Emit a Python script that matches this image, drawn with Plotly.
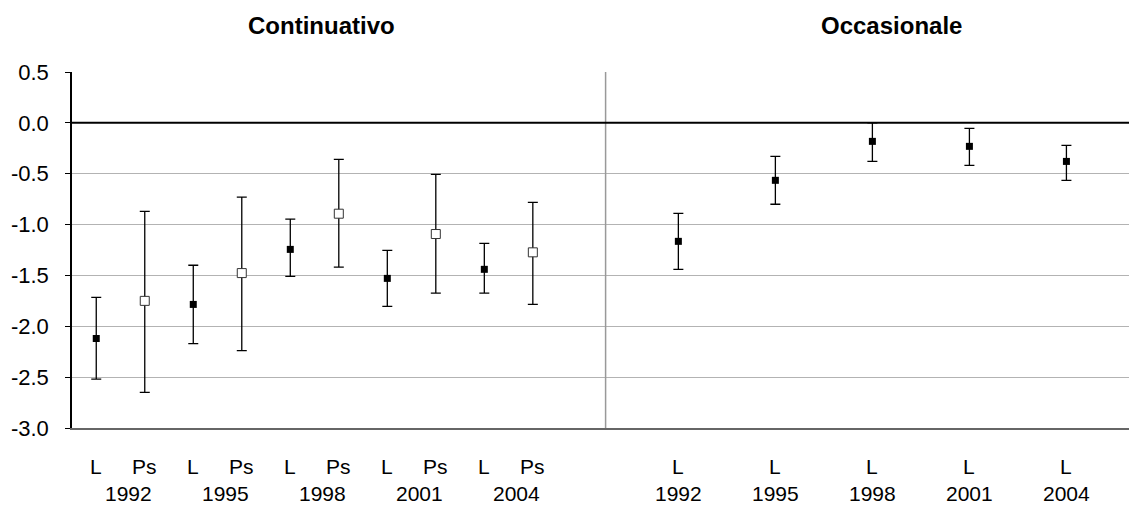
import plotly.graph_objects as go

# ---- data ----
cont_series = ["L", "Ps", "L", "Ps", "L", "Ps", "L", "Ps", "L", "Ps"]
cont_years = ["1992", "1995", "1998", "2001", "2004"]
cont_value = [-2.12, -1.75, -1.785, -1.477, -1.244, -0.893, -1.529, -1.093, -1.44, -1.273]
cont_upper = [-1.716, -0.87, -1.40, -0.73, -0.946, -0.359, -1.254, -0.506, -1.185, -0.782]
cont_lower = [-2.52, -2.65, -2.17, -2.24, -1.51, -1.418, -1.804, -1.673, -1.673, -1.785]

occ_series = ["L", "L", "L", "L", "L"]
occ_years = ["1992", "1995", "1998", "2001", "2004"]
occ_value = [-1.165, -0.565, -0.182, -0.231, -0.379]
occ_upper = [-0.89, -0.33, 0.0, -0.054, -0.221]
occ_lower = [-1.44, -0.80, -0.379, -0.418, -0.565]

y_ticks = [0.5, 0.0, -0.5, -1.0, -1.5, -2.0, -2.5, -3.0]
y_tick_labels = [f"{v:.1f}" for v in y_ticks]
panel_titles = ["Continuativo", "Occasionale"]

# ---- positions on a shared category slot axis ----
cont_x = list(range(len(cont_value)))                  # slots 0..9
sep_x = len(cont_value) + 0.5                          # panel separator
occ_x = [len(cont_value) + 2 + 2 * i for i in range(len(occ_value))]

FONT = "Arial, Liberation Sans, sans-serif"

fig = go.Figure()

def add_points(xs, vals, ups, lows, idx, filled):
    x = [xs[i] for i in idx]
    y = [vals[i] for i in idx]
    up = [ups[i] - vals[i] for i in idx]
    dn = [vals[i] - lows[i] for i in idx]
    if filled:
        marker = dict(symbol="square", size=7, color="black", line=dict(width=0))
    else:
        marker = dict(symbol="square", size=9, color="white", line=dict(width=1, color="#333333"))
    fig.add_trace(go.Scatter(
        x=x, y=y, mode="markers", marker=marker,
        error_y=dict(type="data", symmetric=False, array=up, arrayminus=dn,
                     color="black", thickness=1.3, width=5),
        showlegend=False, hoverinfo="skip"))

L_idx = [i for i, s in enumerate(cont_series) if s == "L"]
P_idx = [i for i, s in enumerate(cont_series) if s == "Ps"]
add_points(cont_x, cont_value, cont_upper, cont_lower, L_idx, True)
add_points(cont_x, cont_value, cont_upper, cont_lower, P_idx, False)
add_points(occ_x, occ_value, occ_upper, occ_lower, list(range(len(occ_value))), True)

# separator and zero line
fig.add_shape(type="line", xref="x", yref="y", x0=sep_x, x1=sep_x, y0=-3.0, y1=0.5,
              line=dict(color="#999999", width=1.5), layer="above")
fig.add_shape(type="line", xref="paper", yref="y", x0=0, x1=1, y0=0, y1=0,
              line=dict(color="black", width=2), layer="above")

LABEL_FONT = dict(family=FONT, size=21, color="black")
annotations = []
# category labels row 1
for x, s in zip(cont_x + occ_x, cont_series + occ_series):
    annotations.append(dict(x=x, y=0, xref="x", yref="paper", text=s, showarrow=False,
                            yanchor="middle", yshift=-38, font=LABEL_FONT))
# year labels row 2
for k, yr in enumerate(cont_years):
    xm = (cont_x[2 * k] + cont_x[2 * k + 1]) / 2 + 0.17
    annotations.append(dict(x=xm, y=0, xref="x", yref="paper", text=yr, showarrow=False,
                            yanchor="middle", yshift=-65, font=LABEL_FONT))
for x, yr in zip(occ_x, occ_years):
    annotations.append(dict(x=x, y=0, xref="x", yref="paper", text=yr, showarrow=False,
                            yanchor="middle", yshift=-65, font=LABEL_FONT))
# panel titles
for x, t in zip([4.65, 16.4], panel_titles):
    annotations.append(dict(x=x, y=1, xref="x", yref="paper", text=f"<b>{t}</b>",
                            showarrow=False, yanchor="middle", yshift=47,
                            font=dict(family=FONT, size=24, color="black")))

fig.update_layout(
    width=1129, height=507,
    margin=dict(l=72, r=0, t=72, b=79),
    paper_bgcolor="white", plot_bgcolor="white",
    annotations=annotations,
    xaxis=dict(range=[-0.5, 21.29], showgrid=False, zeroline=False, showticklabels=False,
               ticks="", showline=True, linecolor="#666666", linewidth=2, mirror=False,
               fixedrange=True),
    yaxis=dict(range=[-3.0, 0.5], tickvals=y_ticks, ticktext=y_tick_labels,
               showgrid=True, gridcolor="#b3b3b3", gridwidth=1, zeroline=False,
               showline=True, linecolor="black", linewidth=1.5,
               ticks="outside", ticklen=5, tickcolor="black", tickwidth=1,
               ticklabelstandoff=12,
               tickfont=dict(family=FONT, size=22, color="black"), fixedrange=True),
)

fig.write_html("out.html")
